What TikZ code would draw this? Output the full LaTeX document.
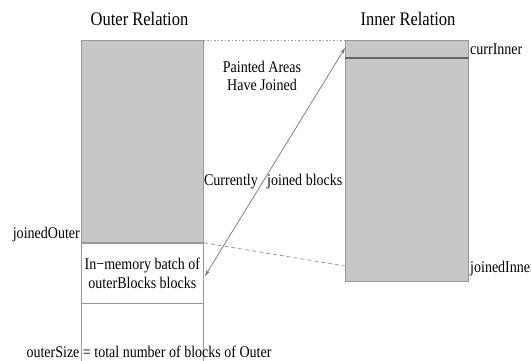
\documentclass[tikz,border=0pt]{standalone}
\usepackage{fontspec}
\setmainfont{Liberation Serif}[FakeStretch=0.86]
\usepackage{tikz}
\usetikzlibrary{positioning,arrows.meta,calc}

\begin{document}
\begin{tikzpicture}[
  x=1pt, y=-1pt,
  font=\fontsize{16.3}{18.4}\selectfont,
  painted/.style={draw=black!40, fill=black!22, line width=0.8pt, inner sep=0pt},
  plain/.style={draw=black!40, fill=white, line width=0.8pt, inner sep=0pt, align=center},
  title/.style={font=\fontsize{19.2}{22}\selectfont},
  lbl/.style={inner sep=1pt, align=center},
  guide/.style={draw=black!40, line width=0.8pt},
  link/.style={black!55, line width=0.7pt, {Stealth[length=2.2mm,width=1.3mm]}-{Stealth[length=2.2mm,width=1.3mm]}}
]
\useasboundingbox (0,0) rectangle (531,360);

% outer relation
\node[title] (otitle) at (139.5,19) {Outer Relation};
\node[painted, anchor=north west, minimum width=122pt, minimum height=202pt] (outer) at (81,40) {};
\node[plain, anchor=north, minimum width=122pt, minimum height=60pt] (batch) at (outer.south) {In{\char"2212}memory batch of\\outerBlocks blocks};
\draw[guide] (batch.south west) -- ++(0,60);
\draw[guide] (batch.south east) -- ++(0,60);
\node[lbl, anchor=south east] (jout) at (outer.south west) {joinedOuter};
\node[lbl] (osize) at (149,352) {outerSize = total number of blocks of Outer};

% inner relation
\node[title] (ititle) at (408,19) {Inner Relation};
\node[painted, anchor=north west, minimum width=123pt, minimum height=241pt] (inner) at (345,40) {};
\draw[black!60, line width=1.6pt] ($(inner.north west)+(0,18)$) -- ($(inner.north east)+(0,18)$);
\node[lbl, anchor=west] (cin) at (469,49) {currInner};
\node[lbl, anchor=west] (jin) at (469,269) {joinedInner};

% joined area
\node[lbl] (painted) at (262,76) {Painted Areas\\Have Joined};
\node[lbl, anchor=east] (curr) at (259,182) {Currently};
\node[lbl, anchor=west] (jblk) at (266,182) {joined blocks};

\coordinate (arrlo) at (205,276);
\coordinate (arrhi) at (345,48);
\coordinate (jinpt) at (345,266);
\draw[black!40, line width=0.8pt, dash pattern=on 1.5pt off 2pt] (outer.north east) -- (inner.north west);
\draw[black!40, line width=0.8pt, dash pattern=on 4pt off 3pt] (outer.south east) -- (jinpt);
\draw[link] (arrlo) -- (arrhi);
\end{tikzpicture}
\end{document}
